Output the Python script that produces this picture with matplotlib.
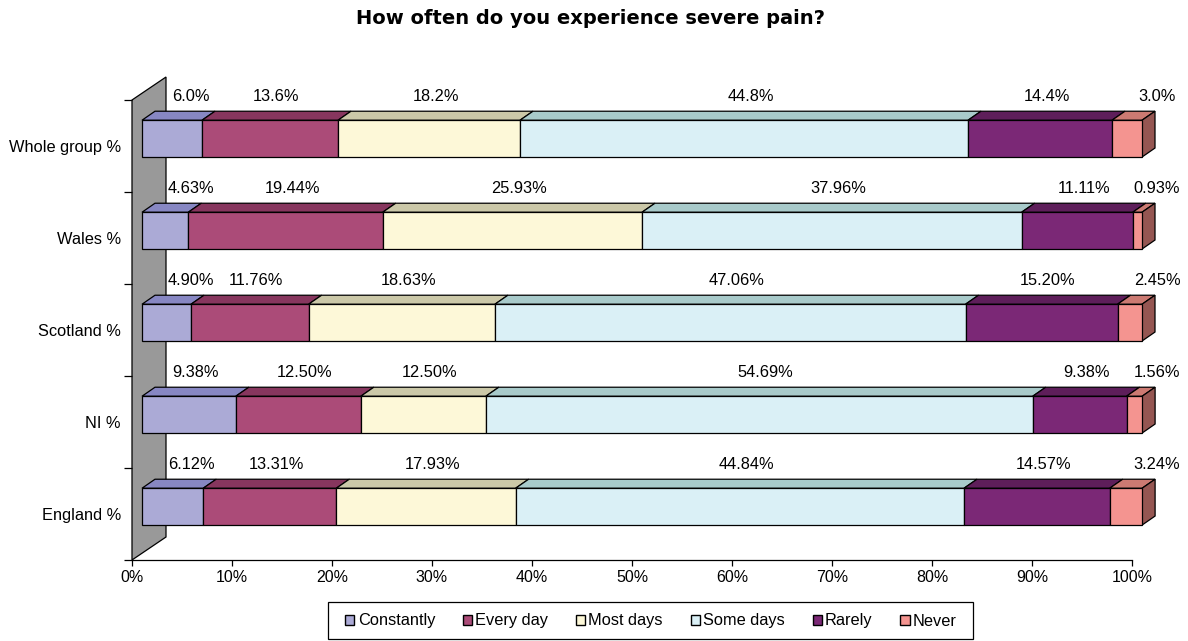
import matplotlib
matplotlib.use("Agg")
import matplotlib.pyplot as plt
from matplotlib.patches import Polygon, Patch, Rectangle

plt.rcParams["font.family"] = ["Liberation Sans", "DejaVu Sans"]

# rows listed bottom to top
groups = ["England %", "NI %", "Scotland %", "Wales %", "Whole group %"]
answers = ["Constantly", "Every day", "Most days", "Some days", "Rarely", "Never"]
shares = {
    "England %":     [6.12, 13.31, 17.93, 44.84, 14.57, 3.24],
    "NI %":          [9.38, 12.50, 12.50, 54.69, 9.38, 1.56],
    "Scotland %":    [4.90, 11.76, 18.63, 47.06, 15.20, 2.45],
    "Wales %":       [4.63, 19.44, 25.93, 37.96, 11.11, 0.93],
    "Whole group %": [6.0, 13.6, 18.2, 44.8, 14.4, 3.0],
}
labels = {
    "England %":     ["6.12%", "13.31%", "17.93%", "44.84%", "14.57%", "3.24%"],
    "NI %":          ["9.38%", "12.50%", "12.50%", "54.69%", "9.38%", "1.56%"],
    "Scotland %":    ["4.90%", "11.76%", "18.63%", "47.06%", "15.20%", "2.45%"],
    "Wales %":       ["4.63%", "19.44%", "25.93%", "37.96%", "11.11%", "0.93%"],
    "Whole group %": ["6.0%", "13.6%", "18.2%", "44.8%", "14.4%", "3.0%"],
}

front = ["#abaad6", "#ab4b78", "#fdf8d8", "#daf0f6", "#7b2876", "#f49490"]
top = ["#8787c3", "#87365e", "#cbc8a8", "#a8caca", "#5e1e5a", "#cc7a72"]
side_never = "#955652"

W, H = 1188, 641
fig = plt.figure(figsize=(W / 100, H / 100), dpi=100)
ax = fig.add_axes([132 / W, (H - 560) / H, 1000 / W, 460 / H])
ax.set_xlim(0, 100)
ax.set_ylim(0, 5)

# oblique 3D offsets in data units
shift_x = 1.0          # front face sits right of the wall
dep_x, dep_y = 1.3, 0.098
lo, hi = -0.12, 0.28   # front face extent around row centre
lw = 0.9
fs = 11.8

# grey back wall
wall = Polygon([(0, 0), (0, 5), (3.4, 5.25), (3.4, 0.25)], closed=True,
               facecolor="#999999", edgecolor="black", lw=lw, clip_on=False, zorder=1)
ax.add_patch(wall)

for i, g in enumerate(groups):
    c = i + 0.5
    y0, y1 = c + lo, c + hi
    left = 0.0
    vals = shares[g]
    for k, v in enumerate(vals):
        a, b = left + shift_x, left + v + shift_x
        ax.add_patch(Polygon([(a, y1), (b, y1), (b + dep_x, y1 + dep_y), (a + dep_x, y1 + dep_y)],
                             facecolor=top[k], edgecolor="black", lw=lw, clip_on=False, zorder=3))
        ax.add_patch(Polygon([(a, y0), (b, y0), (b, y1), (a, y1)],
                             facecolor=front[k], edgecolor="black", lw=lw, clip_on=False, zorder=4))
        if k == len(vals) - 1:
            ax.add_patch(Polygon([(b, y0), (b + dep_x, y0 + dep_y), (b + dep_x, y1 + dep_y), (b, y1)],
                                 facecolor=side_never, edgecolor="black", lw=lw, clip_on=False, zorder=3))
        # value label over the top face, kept clear of the wall and right edge
        xl = left + v / 2 + shift_x + dep_x / 2
        if k == 0:
            xl = max(xl, 5.9)
        if k == len(vals) - 1:
            xl = 102.5
        ax.text(xl, c + 0.535, labels[g][k], ha="center", va="center", fontsize=fs,
                clip_on=False, zorder=5)
        left += v

# axes styling
for s in ["top", "right", "left"]:
    ax.spines[s].set_visible(False)
ax.spines["bottom"].set_linewidth(0.9)

ax.set_xticks(range(0, 101, 10))
ax.set_xticklabels([f"{t}%" for t in range(0, 101, 10)], fontsize=11.5)
ax.tick_params(axis="x", direction="out", length=4, width=0.9, pad=3)

ax.set_yticks(range(0, 6))
ax.set_yticklabels([])
ax.set_yticks([i + 0.5 for i in range(len(groups))], minor=True)
ax.set_yticklabels(groups, minor=True, fontsize=fs)
ax.tick_params(axis="y", which="major", direction="out", length=6, width=0.9)
ax.tick_params(axis="y", which="minor", length=0, pad=8)

fig.text(590 / W, 1 - 18 / H, "How often do you experience severe pain?",
         ha="center", va="center", fontsize=14, fontweight="bold", family="DejaVu Sans")

# legend frame drawn separately so its padding can be set freely
fig.patches.append(Rectangle((328 / W, 1 - 639 / H), 645 / W, 37 / H, transform=fig.transFigure,
                             facecolor="white", edgecolor="black", lw=0.9))
handles = [Patch(facecolor=front[k], edgecolor="black", lw=1) for k in range(len(answers))]
leg = fig.legend(handles, answers, loc="center", bbox_to_anchor=(651 / W, 1 - 621 / H),
                 ncol=6, fontsize=fs, frameon=False,
                 handlelength=0.55, handleheight=0.55, handletextpad=0.2,
                 columnspacing=1.7, borderpad=0.2)

fig.savefig("out.png", dpi=100)
